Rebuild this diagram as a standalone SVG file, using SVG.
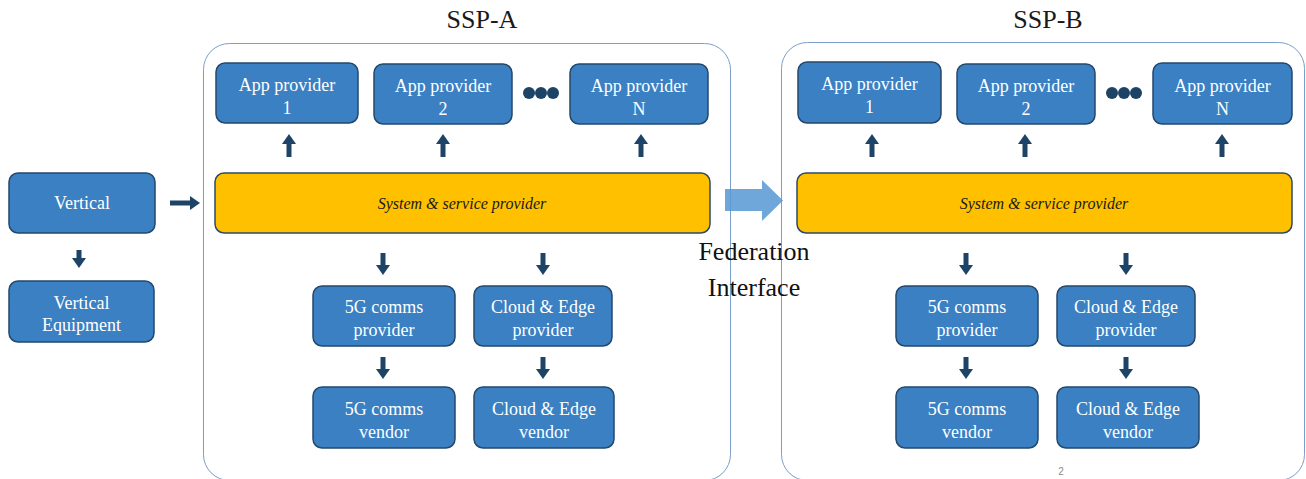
<svg xmlns="http://www.w3.org/2000/svg" width="1306" height="479" viewBox="0 0 1306 479">
  <defs>
    <style>
      .container { fill: #ffffff; stroke: #7b9dc7; stroke-width: 1; }
      .title { font-family: 'Liberation Serif', 'Times New Roman', serif; font-size: 26px; fill: #1a1a1a; text-anchor: middle; }
      .box { fill: #3a80c3; stroke: #24486b; stroke-width: 1.5; }
      .core { fill: #ffc000; stroke: #2b4a68; stroke-width: 1.5; }
      .label { font-family: 'Liberation Serif', 'Times New Roman', serif; font-size: 18px; fill: #ffffff; text-anchor: middle; }
      .ilabel { font-family: 'Liberation Serif', 'Times New Roman', serif; font-size: 16px; font-style: italic; fill: #1a1a1a; text-anchor: middle; }
      .fed { font-family: 'Liberation Serif', 'Times New Roman', serif; font-size: 26px; fill: #111111; text-anchor: middle; }
      .flow { stroke: #1d4366; stroke-width: 5; fill: none; marker-end: url(#head); }
      .dot { fill: #1d4366; }
      .page { font-family: 'Liberation Sans', Arial, sans-serif; font-size: 10px; fill: #8a8a8a; text-anchor: middle; }
    </style>
    <marker id="head" markerUnits="userSpaceOnUse" markerWidth="14" markerHeight="14" viewBox="0 0 10 14" refX="1" refY="7" orient="auto">
      <path d="M0,0 L10,7 L0,14 Z" fill="#1d4366"/>
    </marker>
  </defs>

  <!-- SSP containers -->
  <g id="ssp-a">
    <rect class="container" x="203.5" y="43.5" width="527" height="437" rx="26"/>
    <text class="title" x="482" y="28">SSP-A</text>
  </g>
  <g id="ssp-b">
    <rect class="container" x="781.5" y="42.5" width="523" height="438" rx="26"/>
    <text class="title" x="1048" y="28">SSP-B</text>
  </g>

  <!-- Vertical side -->
  <g id="vertical">
    <rect class="box" x="9" y="173" width="146" height="60" rx="9"/>
    <text class="label" x="82" y="209">Vertical</text>
  </g>
  <g id="vertical-equipment">
    <rect class="box" x="9" y="281" width="145" height="61" rx="9"/>
    <text class="label" x="81.5" y="309">Vertical</text>
    <text class="label" x="81.5" y="331">Equipment</text>
  </g>

  <!-- SSP-A nodes -->
  <g id="a-app-1">
    <rect class="box" x="216" y="63" width="142" height="60" rx="9"/>
    <text class="label" x="287" y="91">App provider</text>
    <text class="label" x="287" y="114">1</text>
  </g>
  <g id="a-app-2">
    <rect class="box" x="374" y="64" width="138" height="60" rx="9"/>
    <text class="label" x="443" y="92">App provider</text>
    <text class="label" x="443" y="115">2</text>
  </g>
  <g id="a-dots">
    <circle class="dot" cx="529" cy="93" r="6"/>
    <circle class="dot" cx="541" cy="93" r="6"/>
    <circle class="dot" cx="553" cy="93" r="6"/>
  </g>
  <g id="a-app-n">
    <rect class="box" x="570" y="64" width="138" height="60" rx="9"/>
    <text class="label" x="639" y="92">App provider</text>
    <text class="label" x="639" y="115">N</text>
  </g>
  <g id="a-ssp">
    <rect class="core" x="215" y="173" width="495" height="60" rx="9"/>
    <text class="ilabel" x="462" y="209">System &amp; service provider</text>
  </g>
  <g id="a-5g-provider">
    <rect class="box" x="313" y="286" width="142" height="60" rx="9"/>
    <text class="label" x="384" y="313">5G comms</text>
    <text class="label" x="384" y="336">provider</text>
  </g>
  <g id="a-cloud-provider">
    <rect class="box" x="474" y="286" width="138" height="60" rx="9"/>
    <text class="label" x="543" y="313">Cloud &amp; Edge</text>
    <text class="label" x="543" y="336">provider</text>
  </g>
  <g id="a-5g-vendor">
    <rect class="box" x="313" y="387" width="142" height="61" rx="9"/>
    <text class="label" x="384" y="415">5G comms</text>
    <text class="label" x="384" y="438">vendor</text>
  </g>
  <g id="a-cloud-vendor">
    <rect class="box" x="474" y="387" width="140" height="61" rx="9"/>
    <text class="label" x="544" y="415">Cloud &amp; Edge</text>
    <text class="label" x="544" y="438">vendor</text>
  </g>

  <!-- SSP-B nodes -->
  <g id="b-app-1">
    <rect class="box" x="798" y="62" width="143" height="61" rx="9"/>
    <text class="label" x="869.5" y="90">App provider</text>
    <text class="label" x="869.5" y="113">1</text>
  </g>
  <g id="b-app-2">
    <rect class="box" x="957" y="64" width="138" height="60" rx="9"/>
    <text class="label" x="1026" y="92">App provider</text>
    <text class="label" x="1026" y="115">2</text>
  </g>
  <g id="b-dots">
    <circle class="dot" cx="1112" cy="93" r="6"/>
    <circle class="dot" cx="1124" cy="93" r="6"/>
    <circle class="dot" cx="1136" cy="93" r="6"/>
  </g>
  <g id="b-app-n">
    <rect class="box" x="1153" y="63" width="139" height="61" rx="9"/>
    <text class="label" x="1222.5" y="92">App provider</text>
    <text class="label" x="1222.5" y="115">N</text>
  </g>
  <g id="b-ssp">
    <rect class="core" x="797" y="173" width="495" height="60" rx="9"/>
    <text class="ilabel" x="1044" y="209">System &amp; service provider</text>
  </g>
  <g id="b-5g-provider">
    <rect class="box" x="896" y="286" width="142" height="60" rx="9"/>
    <text class="label" x="967" y="313">5G comms</text>
    <text class="label" x="967" y="336">provider</text>
  </g>
  <g id="b-cloud-provider">
    <rect class="box" x="1057" y="286" width="138" height="60" rx="9"/>
    <text class="label" x="1126" y="313">Cloud &amp; Edge</text>
    <text class="label" x="1126" y="336">provider</text>
  </g>
  <g id="b-5g-vendor">
    <rect class="box" x="896" y="387" width="142" height="61" rx="9"/>
    <text class="label" x="967" y="415">5G comms</text>
    <text class="label" x="967" y="438">vendor</text>
  </g>
  <g id="b-cloud-vendor">
    <rect class="box" x="1057" y="387" width="142" height="61" rx="9"/>
    <text class="label" x="1128" y="415">Cloud &amp; Edge</text>
    <text class="label" x="1128" y="438">vendor</text>
  </g>

  <!-- Connectors -->
  <g id="connectors">
    <line class="flow" x1="170" y1="203" x2="191" y2="203"/>
    <line class="flow" x1="79" y1="250" x2="79" y2="259"/>

    <line class="flow" x1="289" y1="157" x2="289" y2="143"/>
    <line class="flow" x1="443" y1="157" x2="443" y2="143"/>
    <line class="flow" x1="641" y1="157" x2="641" y2="143"/>
    <line class="flow" x1="383" y1="253" x2="383" y2="266"/>
    <line class="flow" x1="543" y1="253" x2="543" y2="266"/>
    <line class="flow" x1="383" y1="357" x2="383" y2="370"/>
    <line class="flow" x1="543" y1="357" x2="543" y2="370"/>

    <line class="flow" x1="872" y1="157" x2="872" y2="143"/>
    <line class="flow" x1="1025" y1="157" x2="1025" y2="143"/>
    <line class="flow" x1="1222" y1="157" x2="1222" y2="143"/>
    <line class="flow" x1="966" y1="253" x2="966" y2="266"/>
    <line class="flow" x1="1126" y1="253" x2="1126" y2="266"/>
    <line class="flow" x1="966" y1="357" x2="966" y2="370"/>
    <line class="flow" x1="1126" y1="357" x2="1126" y2="370"/>

    <!-- federation block arrow between the two SSPs -->
    <g id="federation">
      <path d="M725,189 L762,189 L762,180 L783,200.5 L762,221 L762,211 L725,211 Z" fill="#5b9bd5" fill-opacity="0.88"/>
      <text class="fed" x="754" y="260">Federation</text>
      <text class="fed" x="754" y="296">Interface</text>
    </g>
  </g>

  <text class="page" x="1061" y="475">2</text>
</svg>
